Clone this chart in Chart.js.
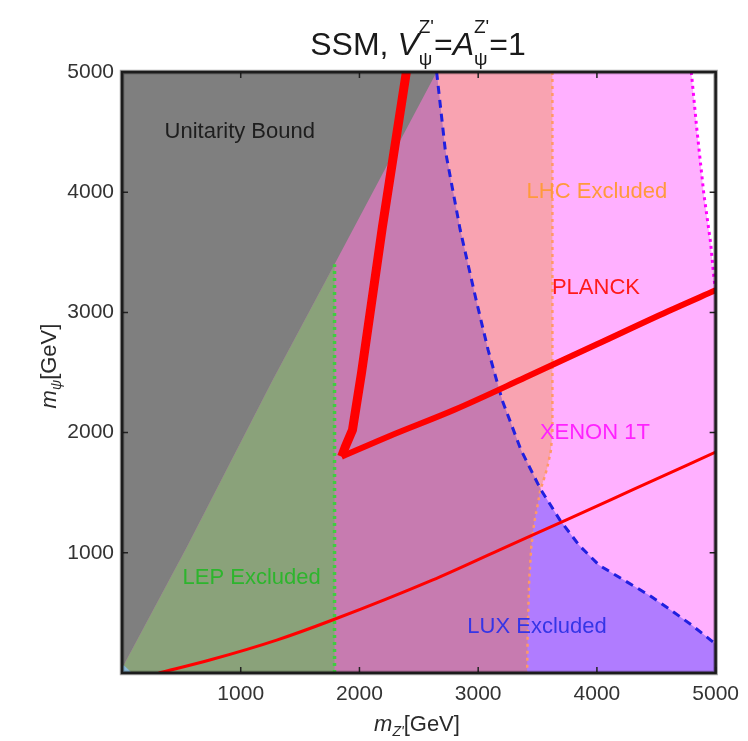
<!DOCTYPE html>
<html>
<head>
<meta charset="utf-8">
<script src="https://cdn.jsdelivr.net/npm/chart.js@4.4.1/dist/chart.umd.min.js"></script>
<style>
  html, body { margin: 0; padding: 0; background: #fff; }
  canvas { display: block; }
</style>
</head>
<body>
<canvas id="grafico" width="748" height="741"></canvas>
<script>
// x = m_Z' [GeV], y = m_psi [GeV]
const ticksX = [1000, 2000, 3000, 4000, 5000];
const ticksY = [1000, 2000, 3000, 4000, 5000];

// limite de unitariedad (zona gris por encima)
const unitX = [0, 546, 1269, 1790, 2650];
const unitY = [40, 1048, 2437, 3400, 5000];

// LEP
const lepX = [1790, 1790];
const lepY = [0, 3400];

// LHC
const lhcX = [3625, 3625, 3612, 3580, 3540, 3525, 3505, 3472, 3447, 3430, 3418, 3412];
const lhcY = [5000, 2000, 1850, 1700, 1570, 1530, 1420, 1250, 1050, 780, 400, 0];

// LUX
const luxX = [2650, 2723, 2849, 2983, 3084, 3202, 3361, 3525, 3689, 3849, 4017, 4227, 4437, 4622, 4798, 4958, 5000];
const luxY = [5000, 4349, 3684, 3102, 2686, 2270, 1854, 1530, 1272, 1064, 898, 773, 649, 524, 399, 274, 241];

// LUX y LHC a la vez (borde de la zona malva)
const mezclaX = [2650, 2723, 2849, 2983, 3084, 3202, 3361, 3525, 3505, 3472, 3447, 3430, 3418, 3412];
const mezclaY = [5000, 4349, 3684, 3102, 2686, 2270, 1854, 1530, 1420, 1250, 1050, 780, 400, 0];

// XENON 1T
const xenonX = [4795, 4840, 4900, 4958, 4985, 5000];
const xenonY = [5000, 4540, 3990, 3576, 3290, 3180];

// PLANCK: rama empinada, rama superior, curva inferior
const planckAX = [2395, 2193, 2017, 1941, 1880, 1850];
const planckAY = [5000, 3709, 2495, 2021, 1880, 1800];
const planckBX = [1850, 2250, 2800, 3400, 4000, 4600, 5000];
const planckBY = [1800, 1970, 2190, 2460, 2735, 3010, 3185];
const planckCX = [310, 739, 1303, 1773, 2613, 3176, 3739, 4294, 5000];
const planckCY = [0, 108, 274, 441, 773, 1023, 1272, 1521, 1838];

// esquina azul
const esquinaX = [0, 85, 0];
const esquinaY = [0, 0, 80];

const FUENTE = "'Liberation Sans', Arial, sans-serif";

const notas = [
  { texto: 'Unitarity Bound', x: 992, y: 4499, color: '#1e1e1e' },
  { texto: 'LHC Excluded', x: 4000, y: 4000, color: '#ff9a3c' },
  { texto: 'PLANCK', x: 3992, y: 3202, color: '#ff1a1a' },
  { texto: 'XENON 1T', x: 3983, y: 1996, color: '#ff22ff' },
  { texto: 'LEP Excluded', x: 1092, y: 790, color: '#2db52d' },
  { texto: 'LUX Excluded', x: 3496, y: 383, color: '#3535e6' }
];

function puntos(xs, ys) {
  return xs.map((x, i) => ({ x: x, y: ys[i] }));
}

function zona(data, color, orden) {
  return {
    data: data, showLine: true, fill: 'shape', backgroundColor: color,
    borderColor: 'rgba(0,0,0,0)', borderWidth: 0, pointRadius: 0, tension: 0, order: orden
  };
}

function linea(data, color, ancho, guion, orden, suave) {
  return {
    data: data, showLine: true, fill: false, borderColor: color, borderWidth: ancho,
    borderDash: guion || [], pointRadius: 0, tension: 0, order: orden,
    cubicInterpolationMode: suave ? 'monotone' : 'default',
    borderCapStyle: 'butt', borderJoinStyle: 'round'
  };
}

const esq0 = [{ x: 0, y: 0 }, { x: 0, y: 5000 }];

// texto con super/subindices: partes = [{t, size, italic, dy} | {sup, sub, size, up, down}]
function anchoPartes(c, partes) {
  let w = 0;
  partes.forEach(p => {
    c.font = (p.italic ? 'italic ' : '') + p.size + 'px ' + FUENTE;
    if (p.t !== undefined) p.w = c.measureText(p.t).width;
    else p.w = Math.max(p.sup ? c.measureText(p.sup).width : 0, p.sub ? c.measureText(p.sub).width : 0);
    w += p.w;
  });
  return w;
}

function dibujarPartes(c, partes, cx, base, color) {
  const total = anchoPartes(c, partes);
  let x = cx - total / 2;
  c.fillStyle = color;
  c.textAlign = 'left';
  c.textBaseline = 'alphabetic';
  partes.forEach(p => {
    c.font = (p.italic ? 'italic ' : '') + p.size + 'px ' + FUENTE;
    if (p.t !== undefined) {
      c.fillText(p.t, x, base + (p.dy || 0));
    } else {
      if (p.sup) c.fillText(p.sup, x, base - p.up);
      if (p.sub) c.fillText(p.sub, x, base + p.down);
    }
    x += p.w;
  });
}

const marco = {
  id: 'marco',
  beforeDraw(chart) {
    const c = chart.ctx;
    c.save();
    c.fillStyle = '#ffffff';
    c.fillRect(0, 0, chart.width, chart.height);
    c.restore();
  },
  afterDatasetsDraw(chart) {
    const c = chart.ctx;
    const a = chart.chartArea;
    const sx = chart.scales.x, sy = chart.scales.y;
    c.save();
    // etiquetas dentro del grafico
    c.font = '22px ' + FUENTE;
    c.textAlign = 'center';
    c.textBaseline = 'middle';
    notas.forEach(n => {
      c.fillStyle = n.color;
      c.fillText(n.texto, sx.getPixelForValue(n.x), sy.getPixelForValue(n.y));
    });
    // marcas hacia dentro en los cuatro lados
    c.strokeStyle = '#222';
    c.lineWidth = 1.5;
    c.beginPath();
    ticksX.forEach(v => {
      const px = sx.getPixelForValue(v);
      c.moveTo(px, a.bottom); c.lineTo(px, a.bottom - 6);
      c.moveTo(px, a.top); c.lineTo(px, a.top + 6);
    });
    ticksY.forEach(v => {
      const py = sy.getPixelForValue(v);
      c.moveTo(a.left, py); c.lineTo(a.left + 6, py);
      c.moveTo(a.right, py); c.lineTo(a.right - 6, py);
    });
    c.stroke();
    // marco
    c.strokeStyle = 'rgba(0,0,0,0.35)';
    c.lineWidth = 4.5;
    c.strokeRect(a.left, a.top, a.right - a.left, a.bottom - a.top);
    c.strokeStyle = '#1c1c1c';
    c.lineWidth = 2.5;
    c.strokeRect(a.left, a.top, a.right - a.left, a.bottom - a.top);

    // titulo
    dibujarPartes(c, [
      { t: 'SSM, ', size: 32 },
      { t: 'V', size: 32, italic: true },
      { sup: "Z'", sub: 'ψ', size: 19, up: 22, down: 10 },
      { t: '=', size: 32 },
      { t: 'A', size: 32, italic: true },
      { sup: "Z'", sub: 'ψ', size: 19, up: 22, down: 10 },
      { t: '=1', size: 32 }
    ], 418, 55, '#1a1a1a');

    // titulo eje x
    dibujarPartes(c, [
      { t: 'm', size: 22, italic: true },
      { t: "Z'", size: 14, italic: true, dy: 5 },
      { t: '[GeV]', size: 22 }
    ], 417, 731, '#2a2a2a');

    // titulo eje y
    c.translate(56, 366);
    c.rotate(-Math.PI / 2);
    dibujarPartes(c, [
      { t: 'm', size: 22, italic: true },
      { t: 'ψ', size: 14, italic: true, dy: 5 },
      { t: '[GeV]', size: 22 }
    ], 0, 0, '#2a2a2a');
    c.restore();
  }
};

const grafico = new Chart(document.getElementById('grafico').getContext('2d'), {
  type: 'scatter',
  data: {
    datasets: [
      linea(puntos(planckAX, planckAY), '#ff0000', 9, null, 1),
      linea(puntos(planckBX, planckBY), '#ff0000', 6, null, 1, true),
      linea(puntos(planckCX, planckCY), '#ff0000', 3, null, 1, true),
      linea(puntos(luxX, luxY), '#2020e0', 3, [8, 6], 2),
      linea(puntos(xenonX, xenonY), '#ff00ff', 3, [3, 4], 2),
      linea(puntos(lhcX, lhcY), '#ff9966', 2.5, [3, 4], 2),
      linea(puntos(lepX, lepY), '#3fcc3f', 3.5, [3, 4], 2),
      zona(puntos(unitX, unitY).concat([{ x: 0, y: 5000 }]), '#7f7f7f', 3),
      zona(puntos(esquinaX, esquinaY), '#8ab8d6', 3),
      zona([{ x: 0, y: 0 }].concat(puntos(unitX.slice(0, 4), unitY.slice(0, 4)), [{ x: 1790, y: 0 }]), '#8aa27a', 4),
      zona(esq0.concat(puntos(mezclaX, mezclaY)), '#c77bb0', 5),
      zona(esq0.concat(puntos(luxX, luxY), [{ x: 5000, y: 0 }]), '#b07cff', 6),
      zona(esq0.concat(puntos(lhcX, lhcY)), '#f9a3b1', 7),
      zona(esq0.concat(puntos(xenonX, xenonY), [{ x: 5000, y: 0 }]), '#ffb0ff', 8)
    ]
  },
  options: {
    responsive: false,
    animation: false,
    events: [],
    layout: { padding: { top: 72, right: 31, left: 0, bottom: 0 } },
    plugins: { legend: { display: false }, tooltip: { enabled: false } },
    scales: {
      x: {
        type: 'linear', min: 0, max: 5000,
        grid: { display: false, drawTicks: false }, border: { display: false },
        afterBuildTicks: s => { s.ticks = ticksX.map(v => ({ value: v })); },
        afterFit: s => { s.height = 68; },
        ticks: { autoSkip: false, maxRotation: 0, padding: 9, color: '#333', callback: v => String(v), font: { size: 21, family: FUENTE } }
      },
      y: {
        type: 'linear', min: 0, max: 5000,
        grid: { display: false, drawTicks: false }, border: { display: false },
        afterBuildTicks: s => { s.ticks = ticksY.map(v => ({ value: v })); },
        afterFit: s => { s.width = 122; },
        ticks: { autoSkip: false, padding: 8, color: '#333', callback: v => String(v), font: { size: 21, family: FUENTE } }
      }
    }
  },
  plugins: [marco]
});
</script>
</body>
</html>
